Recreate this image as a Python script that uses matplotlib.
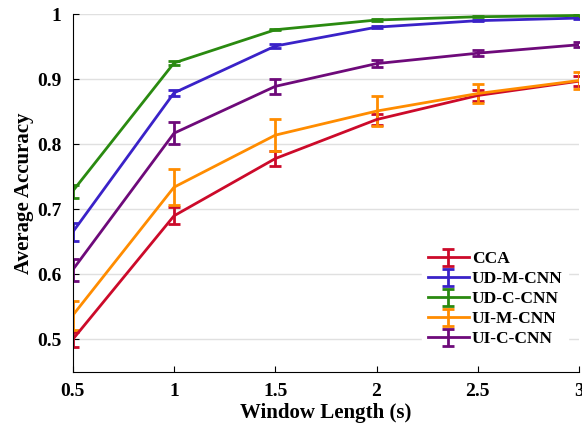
import numpy as np
import matplotlib.pyplot as plt

plt.rcParams["font.family"] = ["Liberation Serif", "DejaVu Serif"]
plt.rcParams["font.weight"] = "bold"

window_length = [0.5, 1, 1.5, 2, 2.5, 3]

cca = [0.500, 0.690, 0.778, 0.838, 0.875, 0.897]
cca_err = [0.012, 0.013, 0.011, 0.008, 0.008, 0.008]

ud_m_cnn = [0.665, 0.879, 0.951, 0.980, 0.990, 0.994]
ud_m_cnn_err = [0.014, 0.005, 0.003, 0.002, 0.001, 0.001]

ud_c_cnn = [0.728, 0.925, 0.976, 0.991, 0.996, 0.998]
ud_c_cnn_err = [0.010, 0.003, 0.001, 0.001, 0.001, 0.001]

ui_m_cnn = [0.537, 0.734, 0.814, 0.851, 0.878, 0.898]
ui_m_cnn_err = [0.022, 0.028, 0.025, 0.023, 0.015, 0.013]

ui_c_cnn = [0.607, 0.817, 0.889, 0.924, 0.940, 0.953]
ui_c_cnn_err = [0.017, 0.017, 0.011, 0.006, 0.005, 0.004]

series = [
    ("CCA", cca, cca_err, "#cc0a2a"),
    ("UD-M-CNN", ud_m_cnn, ud_m_cnn_err, "#3a22c8"),
    ("UD-C-CNN", ud_c_cnn, ud_c_cnn_err, "#2a8a10"),
    ("UI-M-CNN", ui_m_cnn, ui_m_cnn_err, "#ff8c00"),
    ("UI-C-CNN", ui_c_cnn, ui_c_cnn_err, "#6e0a7a"),
]

fig = plt.figure(figsize=(5.82, 4.29), dpi=100)
ax = fig.add_axes([0.125, 0.133, 0.870, 0.834])

for name, values, errors, color in series:
    ax.errorbar(window_length, values, yerr=errors, color=color, linewidth=2,
                elinewidth=2, capsize=4, capthick=2, label=name)

ax.set_xlim(0.5, 3)
ax.set_ylim(0.45, 1.0)
ax.set_xticks([0.5, 1, 1.5, 2, 2.5, 3])
ax.set_xticklabels(["0.5", "1", "1.5", "2", "2.5", "3"])
ax.set_yticks([0.5, 0.6, 0.7, 0.8, 0.9, 1.0])
ax.set_yticklabels(["0.5", "0.6", "0.7", "0.8", "0.9", "1"])
ax.tick_params(direction="in", labelsize=14, length=4, pad=8)
ax.yaxis.grid(True, color="#e0e0e0", linewidth=1)
ax.set_axisbelow(True)
for side in ["top", "right"]:
    ax.spines[side].set_visible(False)

ax.set_xlabel("Window Length (s)", fontsize=15, fontweight="bold", labelpad=2)
ax.set_ylabel("Average Accuracy", fontsize=15, fontweight="bold", labelpad=2)

legend = ax.legend(loc="lower right", bbox_to_anchor=(0.995, 0.03), frameon=True,
                   fontsize=12.5, handlelength=2.4, handletextpad=0.15,
                   labelspacing=0.22, borderpad=0.3)
legend.get_frame().set_edgecolor("white")
legend.get_frame().set_alpha(1.0)
for text in legend.get_texts():
    text.set_fontweight("bold")

fig.savefig("out.png", dpi=100)
